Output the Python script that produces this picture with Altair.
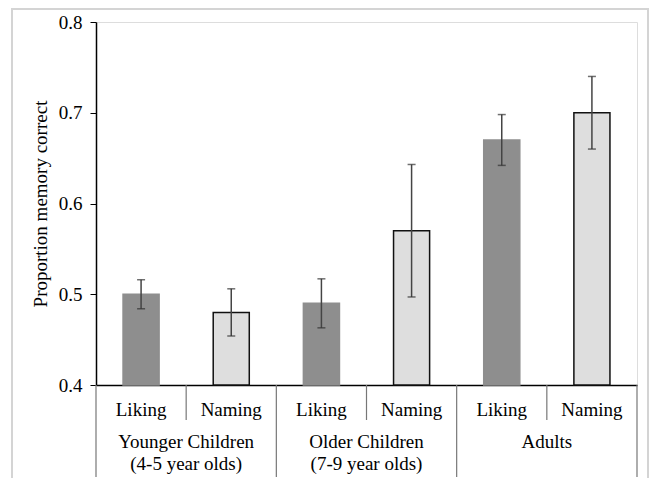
import altair as alt
import pandas as pd

groups = ["Younger Children\n(4-5 year olds)", "Younger Children\n(4-5 year olds)",
          "Older Children\n(7-9 year olds)", "Older Children\n(7-9 year olds)",
          "Adults", "Adults"]
conditions = ["Liking", "Naming", "Liking", "Naming", "Liking", "Naming"]
means = [0.50, 0.48, 0.49, 0.57, 0.67, 0.70]
errors = [0.016, 0.026, 0.027, 0.073, 0.028, 0.040]

keys = [f"{i}-{c}" for i, c in enumerate(conditions)]
df = pd.DataFrame({
    "key": keys,
    "group": groups,
    "condition": conditions,
    "mean": means,
    "lo": [m - e for m, e in zip(means, errors)],
    "hi": [m + e for m, e in zip(means, errors)],
    "first": [c == "Liking" for c in conditions],
    "last": [i == len(keys) - 1 for i in range(len(keys))],
})

W, H = 541, 363
FONT = "'Liberation Serif', 'Times New Roman', Times, 'DejaVu Serif', serif"

xs = alt.Scale(domain=keys, paddingInner=0, paddingOuter=0)
X = alt.X("key:N", scale=xs, axis=alt.Axis(labels=False, ticks=False, title=None,
                                             domainColor="black", domainWidth=1.5))
ys = alt.Scale(domain=[0.4, 0.8], zero=False, nice=False)

base = alt.Chart(df)

frame = alt.Chart(pd.DataFrame({"f": [0]})).mark_rect(
    fill=None, stroke="#d4d4d4", strokeWidth=2).encode(
    x=alt.value(-84), x2=alt.value(W + 11), y=alt.value(-13), y2=alt.value(H + 130))

bars = base.mark_bar(width=alt.RelativeBandSize(0.4)).encode(
    x=X,
    y=alt.Y("mean:Q", scale=ys, axis=alt.Axis(
        values=[0.4, 0.5, 0.6, 0.7, 0.8], format=".1f", grid=False,
        title="Proportion memory correct", titleFont=FONT, titleFontSize=19,
        titleFontWeight="normal", titleColor="black", titlePadding=8,
        labelFont=FONT, labelFontSize=19, labelColor="black", labelPadding=8,
        tickSize=6, tickColor="black", domainColor="black", domainWidth=1.5)),
    y2=alt.datum(0.4),
    color=alt.Color("condition:N", scale=alt.Scale(domain=["Liking", "Naming"],
                                                   range=["#8e8e8e", "#dedede"]), legend=None),
    stroke=alt.Stroke("condition:N", scale=alt.Scale(domain=["Liking", "Naming"],
                                                     range=["#8e8e8e", "#111111"]), legend=None),
    strokeWidth=alt.value(1.5),
)

err = base.mark_rule(color="#444444", strokeWidth=1.5).encode(
    x=alt.X("key:N", scale=xs), y=alt.Y("lo:Q", scale=ys), y2="hi:Q")
cap_hi = base.mark_tick(color="#333333", thickness=1.5, size=8, orient="horizontal").encode(
    x=alt.X("key:N", scale=xs), y=alt.Y("hi:Q", scale=ys))
cap_lo = base.mark_tick(color="#333333", thickness=1.5, size=8, orient="horizontal").encode(
    x=alt.X("key:N", scale=xs), y=alt.Y("lo:Q", scale=ys))

cond_text = base.mark_text(font=FONT, fontSize=19, color="black", baseline="middle").encode(
    x=alt.X("key:N", scale=xs), y=alt.value(H + 25), text="condition:N")

inner_sep = base.transform_filter("!datum.first").mark_rule(color="#777777", strokeWidth=1.2).encode(
    x=alt.X("key:N", scale=xs, bandPosition=0), y=alt.value(H), y2=alt.value(H + 35))

group_sep = base.transform_filter("datum.first").mark_rule(color="#777777", strokeWidth=1.2).encode(
    x=alt.X("key:N", scale=xs, bandPosition=0), y=alt.value(H), y2=alt.value(H + 92))
end_sep = base.transform_filter("datum.last").mark_rule(color="#777777", strokeWidth=1.2).encode(
    x=alt.X("key:N", scale=xs, bandPosition=1), y=alt.value(H), y2=alt.value(H + 92))

group_text = base.transform_filter("!datum.first").mark_text(
    font=FONT, fontSize=19, color="black", baseline="top", lineBreak="\n", lineHeight=22).encode(
    x=alt.X("key:N", scale=xs, bandPosition=0), y=alt.value(H + 48), text="group:N")

chart = alt.layer(frame, bars, err, cap_hi, cap_lo, cond_text, inner_sep, group_sep, end_sep, group_text).properties(
    width=W, height=H,
    autosize=alt.AutoSizeParams(type="none"),
    padding={"left": 88, "top": 14, "right": 12, "bottom": 93},
).configure_view(stroke="#555555", strokeWidth=1.5).configure(background="white")

chart.save("out.html", embed_options={"renderer": "svg", "actions": False})
